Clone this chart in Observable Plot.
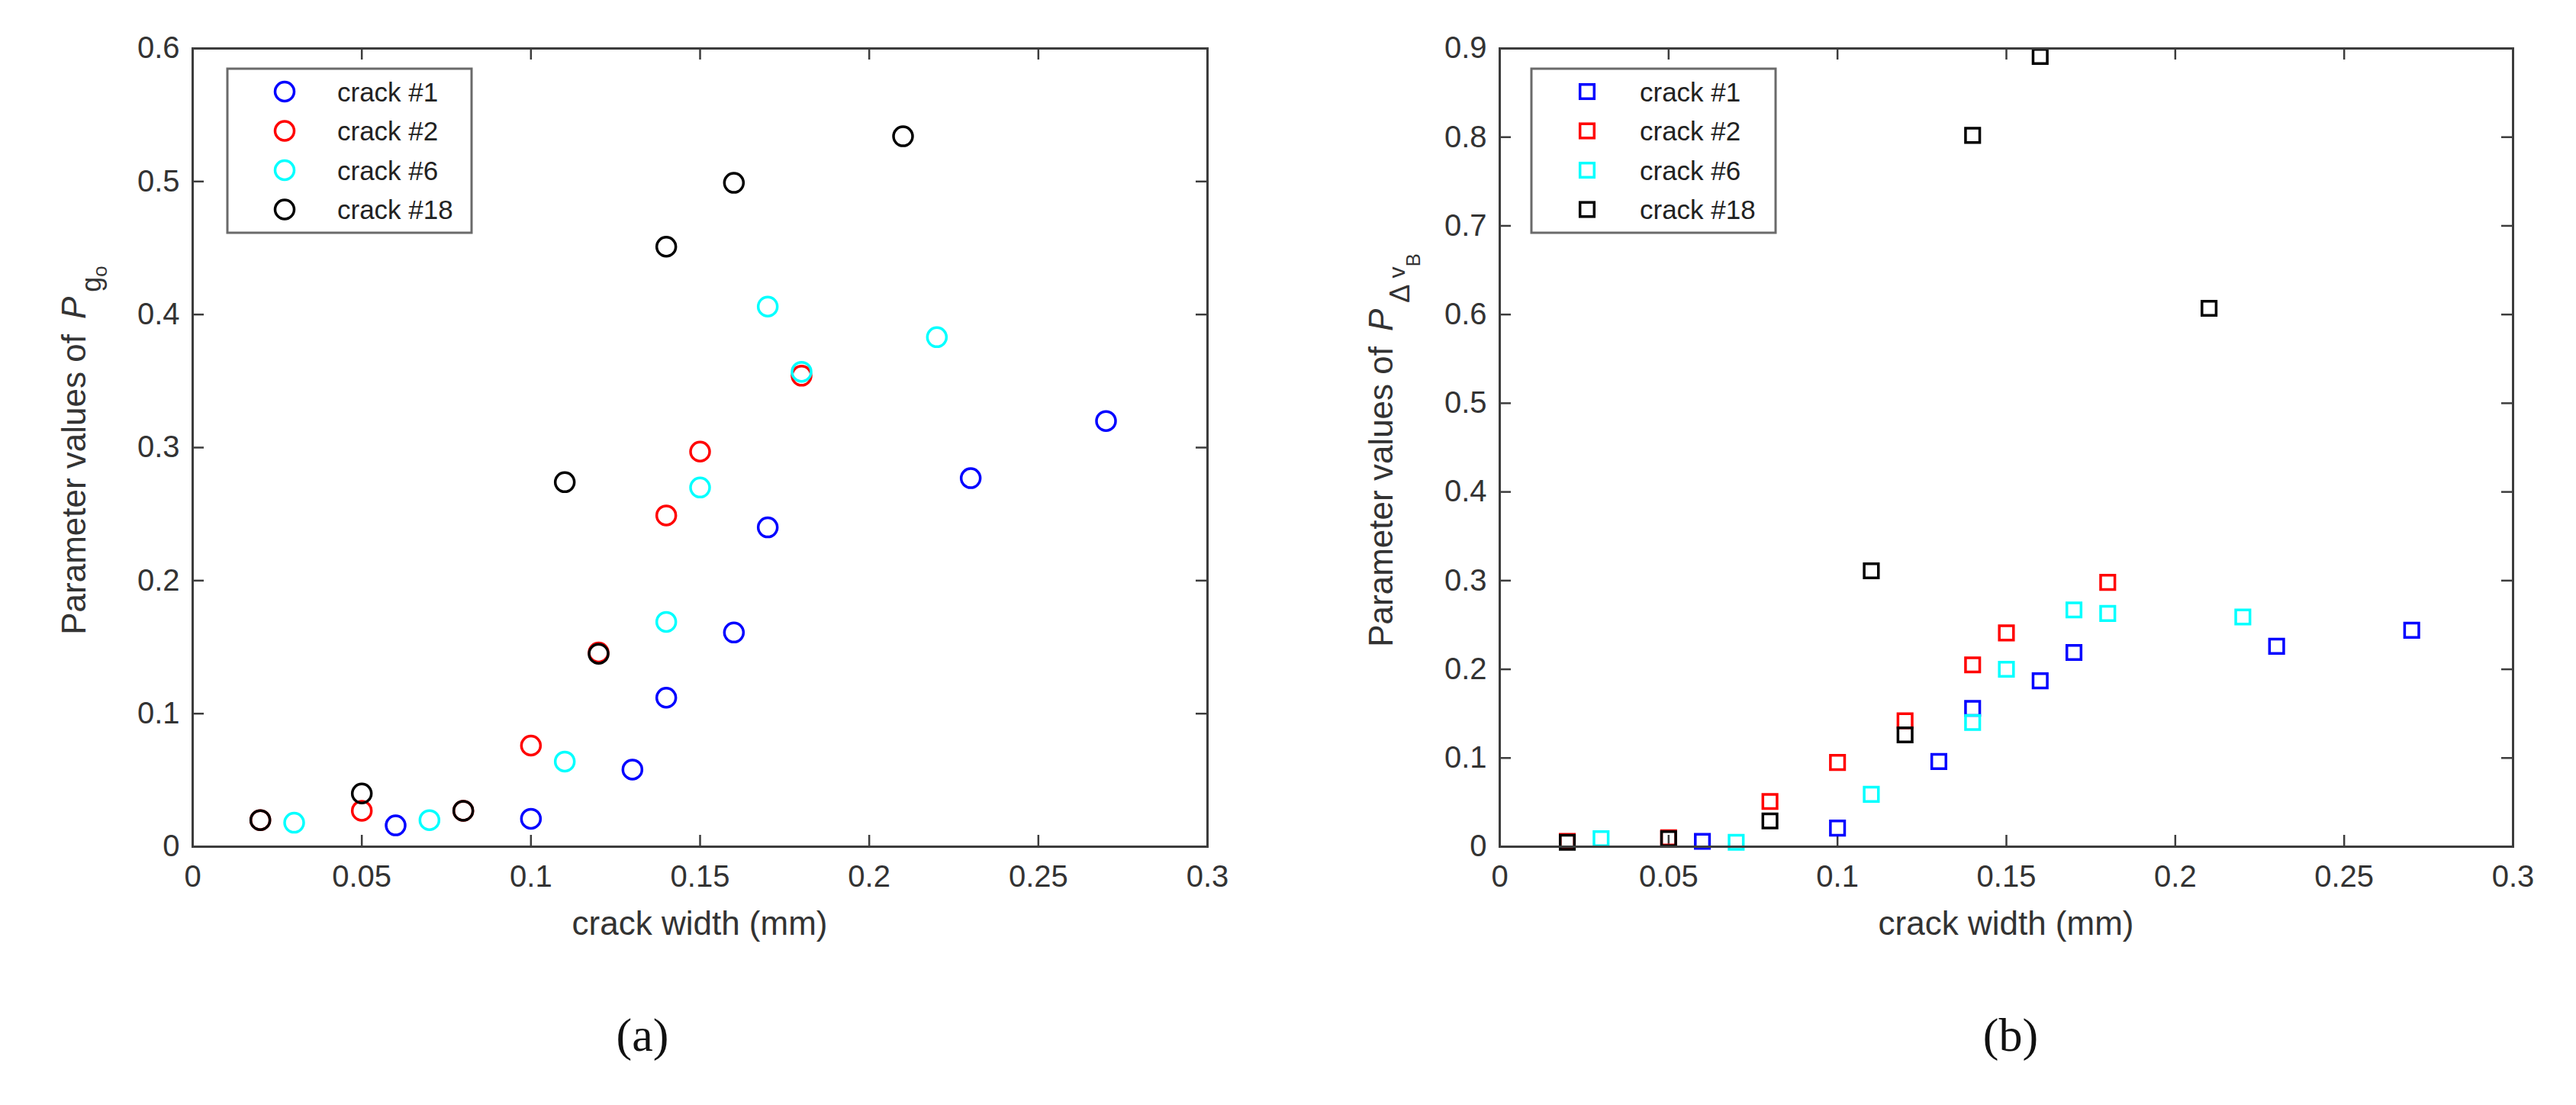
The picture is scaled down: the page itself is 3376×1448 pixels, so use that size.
<!DOCTYPE html>
<html><head><meta charset="utf-8">
<script src="https://cdn.jsdelivr.net/npm/d3@7"></script>
<script src="https://cdn.jsdelivr.net/npm/@observablehq/plot@0.6"></script>
<style>
html,body{margin:0;padding:0;background:#fff;}
#root{position:relative;width:3376px;height:1448px;background:#fff;overflow:hidden;}
.panel{position:absolute;top:0;}
.cap{position:absolute;font-family:"Liberation Serif","DejaVu Serif",serif;font-size:62px;color:#111;transform:translate(-50%,-50%);line-height:1;}
</style></head><body><div id="root"></div>
<script>
// ---- data ----
const series = ["crack #1", "crack #2", "crack #6", "crack #18"];
const seriesColors = ["#0000ff", "#ff0000", "#00ffff", "#000000"];
const xTicks = [0, 0.05, 0.1, 0.15, 0.2, 0.25, 0.3];
const yTicksA = [0, 0.1, 0.2, 0.3, 0.4, 0.5, 0.6];
const yTicksB = [0, 0.1, 0.2, 0.3, 0.4, 0.5, 0.6, 0.7, 0.8, 0.9];

// crack widths (mm) per series
const widthC1 = [0.06, 0.10, 0.13, 0.14, 0.16, 0.17, 0.23, 0.27];
const widthC2 = [0.02, 0.05, 0.08, 0.10, 0.12, 0.14, 0.15, 0.18];
const widthC6 = [0.03, 0.07, 0.11, 0.14, 0.15, 0.17, 0.18, 0.22];
const widthC18 = [0.02, 0.05, 0.08, 0.11, 0.12, 0.14, 0.16, 0.21];

// (a) parameter values of P_g0
const pgC1 = [0.016, 0.021, 0.058, 0.112, 0.161, 0.240, 0.277, 0.320];
const pgC2 = [0.020, 0.027, 0.027, 0.076, 0.146, 0.249, 0.297, 0.354];
const pgC6 = [0.018, 0.020, 0.064, 0.169, 0.270, 0.406, 0.357, 0.383];
const pgC18 = [0.020, 0.040, 0.027, 0.274, 0.145, 0.451, 0.499, 0.534];

// (b) parameter values of P_{Δ vB}
const pdC1 = [0.006, 0.021, 0.096, 0.156, 0.187, 0.219, 0.226, 0.244];
const pdC2 = [0.006, 0.010, 0.051, 0.095, 0.142, 0.205, 0.241, 0.298];
const pdC6 = [0.009, 0.005, 0.059, 0.140, 0.200, 0.267, 0.263, 0.259];
const pdC18 = [0.005, 0.009, 0.029, 0.311, 0.126, 0.802, 0.891, 0.607];

const widths = [widthC1, widthC2, widthC6, widthC18];
function rowsOf(vals) {
  const out = [];
  series.forEach((s, i) => widths[i].forEach((w, j) => out.push({series: s, x: w, y: vals[i][j]})));
  return out;
}
const rowsA = rowsOf([pgC1, pgC2, pgC6, pgC18]);
const rowsB = rowsOf([pdC1, pdC2, pdC6, pdC18]);

const FRAME = "#3c3c3c";
const FONT = "'Liberation Sans', Arial, sans-serif";
const root = document.getElementById("root");
const fmt = d => `${d}`;

function makePanel(o) {
  const plot = Plot.plot({
    width: o.svgW, height: o.svgH,
    marginLeft: o.mL, marginRight: o.mR, marginTop: o.mT, marginBottom: o.mB,
    style: {fontSize: "40px", fontFamily: FONT, color: "#333", background: "#fff", overflow: "visible"},
    x: {domain: [0, 0.3], ticks: xTicks, tickFormat: fmt, tickSize: 0, tickPadding: 24, label: null},
    y: {domain: [0, o.yMax], ticks: o.yTicks, tickFormat: fmt, tickSize: 0, tickPadding: 17, label: null},
    color: {domain: series, range: seriesColors},
    marks: [
      Plot.ruleX(xTicks, {x: d => d, y1: 0, y2: 0, insetBottom: 15, stroke: FRAME, strokeWidth: 2.5}),
      Plot.ruleX(xTicks, {x: d => d, y1: o.yMax, y2: o.yMax, insetTop: 15, stroke: FRAME, strokeWidth: 2.5}),
      Plot.ruleY(o.yTicks, {y: d => d, x1: 0, x2: 0, insetLeft: 15, stroke: FRAME, strokeWidth: 2.5}),
      Plot.ruleY(o.yTicks, {y: d => d, x1: 0.3, x2: 0.3, insetRight: 15, stroke: FRAME, strokeWidth: 2.5}),
      Plot.dot(o.rows, {x: "x", y: "y", stroke: "series", symbol: o.symbol, r: o.r, strokeWidth: 3.5, fill: "none"}),
      Plot.frame({stroke: FRAME, strokeWidth: 3})
    ]
  });
  const svg = d3.select(plot);
  const fl = o.mL, ft = o.mT, fb = o.svgH - o.mB, fr = o.svgW - o.mR;
  // x-axis title
  svg.append("text")
    .attr("x", (fl + fr) / 2).attr("y", fb + 116)
    .attr("text-anchor", "middle")
    .style("font-family", FONT).style("font-size", "44px").attr("fill", "#333")
    .text("crack width (mm)");
  // y-axis title
  const t = svg.append("text")
    .attr("transform", `translate(${fl - 140},${(ft + fb) / 2 + 4}) rotate(-90)`)
    .attr("text-anchor", "middle")
    .style("font-family", FONT).style("font-size", "44px").attr("fill", "#333");
  t.append("tspan").text("Parameter values of");
  o.titleSub(t);
  // legend
  const lx = fl + o.legDx, ly = ft + 27;
  const lg = svg.append("g");
  lg.append("rect").attr("x", lx).attr("y", ly).attr("width", 320).attr("height", 215)
    .attr("fill", "#fff").attr("stroke", "#6a6a6a").attr("stroke-width", 3);
  series.forEach((s, i) => {
    const cy = ly + 30 + i * 51.5;
    const mx = lx + o.legMx;
    if (o.symbol === "circle") {
      lg.append("circle").attr("cx", mx).attr("cy", cy).attr("r", o.r)
        .attr("fill", "none").attr("stroke", seriesColors[i]).attr("stroke-width", 3.5);
    } else {
      const side = o.r * Math.sqrt(Math.PI);
      lg.append("rect").attr("x", mx - side / 2).attr("y", cy - side / 2).attr("width", side).attr("height", side)
        .attr("fill", "none").attr("stroke", seriesColors[i]).attr("stroke-width", 3.5);
    }
    lg.append("text").attr("x", lx + o.legTx).attr("y", cy).attr("dy", "0.36em")
      .attr("text-anchor", "start")
      .style("font-family", FONT).style("font-size", "35px").attr("fill", "#222")
      .text(s);
  });
  const div = document.createElement("div");
  div.className = "panel";
  div.style.left = o.left + "px";
  div.appendChild(plot);
  root.appendChild(div);
}

makePanel({
  left: 0, svgW: 1690, svgH: 1300, mL: 252, mR: 108, mT: 63, mB: 191,
  yMax: 0.6, yTicks: yTicksA, rows: rowsA, symbol: "circle", r: 12.5,
  legDx: 46, legMx: 75, legTx: 144,
  titleSub: t => {
    t.append("tspan").attr("dx", 20).attr("font-style", "italic").text("P");
    t.append("tspan").attr("dy", 20).attr("dx", 6).style("font-size", "36px").text("g");
    t.append("tspan").attr("dy", 8).style("font-size", "26px").text("o");
  }
});
makePanel({
  left: 1690, svgW: 1686, svgH: 1300, mL: 275, mR: 83, mT: 63, mB: 191,
  yMax: 0.9, yTicks: yTicksB, rows: rowsB, symbol: "square", r: 10.5,
  legDx: 42, legMx: 73, legTx: 142,
  titleSub: t => {
    t.append("tspan").attr("dx", 20).attr("font-style", "italic").text("P");
    t.append("tspan").attr("dy", 22).attr("dx", 8).style("font-size", "36px").text("\u0394");
    t.append("tspan").attr("dy", -6).attr("dx", 8).style("font-size", "30px").text("v");
    t.append("tspan").attr("dy", 20).style("font-size", "26px").text("B");
  }
});

const capA = document.createElement("div");
capA.className = "cap"; capA.style.left = "842px"; capA.style.top = "1356px"; capA.textContent = "(a)";
root.appendChild(capA);
const capB = document.createElement("div");
capB.className = "cap"; capB.style.left = "2635px"; capB.style.top = "1356px"; capB.textContent = "(b)";
root.appendChild(capB);
</script>
</body></html>
